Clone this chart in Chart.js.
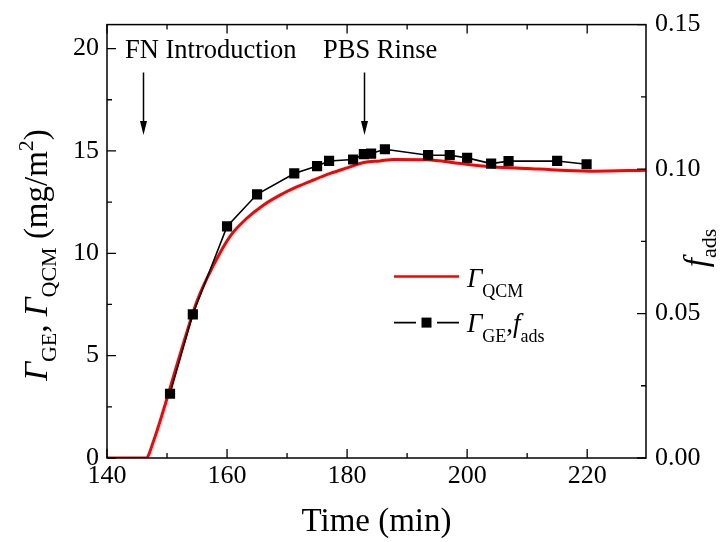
<!DOCTYPE html>
<html>
<head>
<meta charset="utf-8">
<script src="https://cdn.jsdelivr.net/npm/chart.js@4.4.0/dist/chart.umd.min.js"></script>
<style>
  html, body { margin: 0; padding: 0; background: #fff; }
</style>
</head>
<body>
<canvas id="chart" width="726" height="542"></canvas>
<script>
// QCM trace (red line)
const qcmTime = [140, 146.5, 147.8, 149.4, 152.2, 155.0, 157.8, 160.5, 163.3, 166.1, 168.9, 171.7, 174.4, 177.2, 180.0, 182.8, 185.5, 187.8, 193.3, 198.9, 204.4, 210.0, 215.5, 221.1, 229.8];
const qcmMass = [0, 0, 0.87, 2.33, 5.08, 7.67, 9.45, 10.83, 11.71, 12.36, 12.85, 13.25, 13.58, 13.90, 14.17, 14.43, 14.51, 14.58, 14.57, 14.38, 14.22, 14.14, 14.06, 14.01, 14.06];

// GE points (black squares)
const geTime = [150.5, 154.3, 160.0, 165.0, 171.2, 175.0, 177.0, 181.0, 182.8, 184.0, 186.3, 193.5, 197.1, 200.0, 204.0, 206.9, 215.0, 219.9];
const geMass = [3.14, 7.02, 11.31, 12.88, 13.90, 14.26, 14.51, 14.58, 14.84, 14.87, 15.08, 14.79, 14.79, 14.66, 14.38, 14.50, 14.51, 14.35];

// axes
const xRange = [140, 229.8];
const xTicks = [140, 160, 180, 200, 220];
const xMinor = [150, 170, 190, 210];
const leftRange = [0, 21.17];
const leftTicks = [0, 5, 10, 15, 20];
const leftMinor = [2.5, 7.5, 12.5, 17.5];
const rightRange = [0, 0.15];
const rightTicks = [0, 0.05, 0.10, 0.15];
const rightMinor = [0.025, 0.075, 0.125];

// annotations: arrow x, text start x (minutes)
const noteText = ['FN Introduction', 'PBS Rinse'];
const noteArrowAt = [146.0, 182.8];
const noteTextAt = [143.0, 176.0];

const SERIF = "'Liberation Serif', 'DejaVu Serif', serif";
const RED = '#ff0000';

function drawRich(ctx, parts, x, y, angle) {
    ctx.save();
    ctx.translate(x, y);
    ctx.rotate(angle);
    ctx.textAlign = 'left';
    ctx.textBaseline = 'alphabetic';
    let total = 0;
    parts.forEach(p => {
        ctx.font = p.font;
        p.w = ctx.measureText(p.t).width;
        total += p.w;
    });
    let cx = -total / 2;
    parts.forEach(p => {
        ctx.font = p.font;
        ctx.fillText(p.t, cx, p.dy || 0);
        cx += p.w;
    });
    ctx.restore();
}

function drawRichLeft(ctx, parts, x, y) {
    ctx.save();
    ctx.textAlign = 'left';
    ctx.textBaseline = 'alphabetic';
    let cx = x;
    parts.forEach(p => {
        ctx.font = p.font;
        ctx.fillText(p.t, cx, y + (p.dy || 0));
        cx += ctx.measureText(p.t).width;
    });
    ctx.restore();
}

const decorations = {
    id: 'decorations',
    afterDraw(chart) {
        const ctx = chart.ctx;
        const a = chart.chartArea;
        const xs = chart.scales.x;
        const ys = chart.scales.y;
        const y2 = chart.scales.y2;
        ctx.save();
        ctx.strokeStyle = '#000';
        ctx.fillStyle = '#000';

        // frame
        ctx.lineWidth = 1.5;
        ctx.strokeRect(a.left, a.top, a.right - a.left, a.bottom - a.top);

        // inward ticks
        ctx.lineWidth = 1.3;
        ctx.beginPath();
        const tick = (vals, len, fn) => vals.forEach(v => fn(v, len));
        const xt = (v, len) => {
            const p = xs.getPixelForValue(v);
            ctx.moveTo(p, a.bottom); ctx.lineTo(p, a.bottom - len);
            ctx.moveTo(p, a.top); ctx.lineTo(p, a.top + len);
        };
        const lt = (v, len) => {
            const p = ys.getPixelForValue(v);
            ctx.moveTo(a.left, p); ctx.lineTo(a.left + len, p);
        };
        const rt = (v, len) => {
            const p = y2.getPixelForValue(v);
            ctx.moveTo(a.right, p); ctx.lineTo(a.right - len, p);
        };
        tick(xTicks, 9, xt); tick(xMinor, 5, xt);
        tick(leftTicks, 9, lt); tick(leftMinor, 5, lt);
        tick(rightTicks, 9, rt); tick(rightMinor, 5, rt);
        ctx.stroke();

        // annotations with arrows
        ctx.font = '26.5px ' + SERIF;
        ctx.textAlign = 'left';
        ctx.textBaseline = 'alphabetic';
        const textY = ys.getPixelForValue(19.56);
        const arrowTop = ys.getPixelForValue(18.83);
        const arrowTip = ys.getPixelForValue(15.78);
        noteText.forEach((t, i) => {
            ctx.fillText(t, xs.getPixelForValue(noteTextAt[i]), textY);
            const px = Math.round(xs.getPixelForValue(noteArrowAt[i])) + 0.5;
            ctx.lineWidth = 1.5;
            ctx.beginPath();
            ctx.moveTo(px, arrowTop);
            ctx.lineTo(px, arrowTip - 10);
            ctx.stroke();
            ctx.beginPath();
            ctx.moveTo(px, arrowTip);
            ctx.lineTo(px - 3.5, arrowTip - 14);
            ctx.lineTo(px + 3.5, arrowTip - 14);
            ctx.closePath();
            ctx.fill();
        });

        // legend
        const lx = a.left + 287, ly1 = a.top + 252, ly2 = a.top + 298;
        ctx.strokeStyle = RED;
        ctx.lineWidth = 2.5;
        ctx.beginPath();
        ctx.moveTo(lx, ly1); ctx.lineTo(lx + 65, ly1);
        ctx.stroke();
        ctx.strokeStyle = '#000';
        ctx.lineWidth = 1.6;
        ctx.beginPath();
        ctx.moveTo(lx, ly2); ctx.lineTo(lx + 22, ly2);
        ctx.moveTo(lx + 43, ly2); ctx.lineTo(lx + 65, ly2);
        ctx.stroke();
        ctx.fillRect(lx + 27.5, ly2 - 5, 10, 10);
        const it27 = 'italic 27px ' + SERIF, rm18 = '18px ' + SERIF, rm27 = '27px ' + SERIF;
        drawRichLeft(ctx, [
            { t: 'Γ', font: it27 },
            { t: 'QCM', font: rm18, dy: 10 }
        ], lx + 73, ly1 + 10);
        drawRichLeft(ctx, [
            { t: 'Γ', font: it27 },
            { t: 'GE', font: rm18, dy: 10 },
            { t: ',', font: rm27 },
            { t: 'f', font: it27 },
            { t: 'ads', font: rm18, dy: 10 }
        ], lx + 73, ly2 + 9);

        // axis titles
        const it33 = 'italic 33px ' + SERIF, rm33 = '33px ' + SERIF, rm22 = '22px ' + SERIF;
        ctx.fillStyle = '#000';
        drawRich(ctx, [{ t: 'Time (min)', font: rm33 }], (a.left + a.right) / 2, 531, 0);
        drawRich(ctx, [
            { t: 'Γ', font: it33 },
            { t: 'GE', font: rm22, dy: 9 },
            { t: ', ', font: rm33 },
            { t: 'Γ', font: it33 },
            { t: 'QCM', font: rm22, dy: 9 },
            { t: ' (mg/m', font: rm33 },
            { t: '2', font: rm22, dy: -14 },
            { t: ')', font: rm33 }
        ], 47, 255, -Math.PI / 2);
        drawRich(ctx, [
            { t: 'f', font: it33 },
            { t: 'ads', font: rm22, dy: 9 }
        ], 707, 248, -Math.PI / 2);
        ctx.restore();
    }
};

const tickFont = { family: SERIF, size: 26 };

new Chart(document.getElementById('chart'), {
    type: 'line',
    data: {
        datasets: [
            {
                label: 'Γ QCM',
                data: qcmTime.map((t, i) => ({ x: t, y: qcmMass[i] })),
                borderColor: RED,
                borderWidth: 3,
                pointRadius: 0,
                cubicInterpolationMode: 'monotone',
                fill: false,
                order: 2
            },
            {
                label: 'Γ GE, f ads',
                data: geTime.map((t, i) => ({ x: t, y: geMass[i] })),
                borderColor: '#000',
                borderWidth: 1.6,
                pointStyle: 'rect',
                pointRadius: 7.2,
                pointBackgroundColor: '#000',
                pointBorderColor: '#000',
                pointBorderWidth: 0,
                tension: 0,
                fill: false,
                order: 1
            }
        ]
    },
    options: {
        responsive: false,
        devicePixelRatio: 1,
        animation: false,
        layout: { padding: { top: 22, left: 0, right: 0, bottom: 0 } },
        plugins: {
            legend: { display: false },
            tooltip: { enabled: false }
        },
        scales: {
            x: {
                type: 'linear',
                min: xRange[0],
                max: xRange[1],
                afterBuildTicks: s => { s.ticks = xTicks.map(v => ({ value: v })); },
                afterFit: s => { s.height = 84; },
                grid: { display: false, drawTicks: false },
                border: { display: false },
                ticks: { font: tickFont, color: '#000', padding: 3, maxRotation: 0, autoSkip: false }
            },
            y: {
                position: 'left',
                min: leftRange[0],
                max: leftRange[1],
                afterBuildTicks: s => { s.ticks = leftTicks.map(v => ({ value: v })); },
                afterFit: s => { s.width = 107; },
                grid: { display: false, drawTicks: false },
                border: { display: false },
                ticks: { font: tickFont, color: '#000', padding: 8 }
            },
            y2: {
                position: 'right',
                min: rightRange[0],
                max: rightRange[1],
                afterBuildTicks: s => { s.ticks = rightTicks.map(v => ({ value: v })); },
                afterFit: s => { s.width = 80; },
                grid: { display: false, drawTicks: false },
                border: { display: false },
                ticks: { font: tickFont, color: '#000', padding: 9, callback: v => v.toFixed(2) }
            }
        }
    },
    plugins: [decorations]
});
</script>
</body>
</html>
